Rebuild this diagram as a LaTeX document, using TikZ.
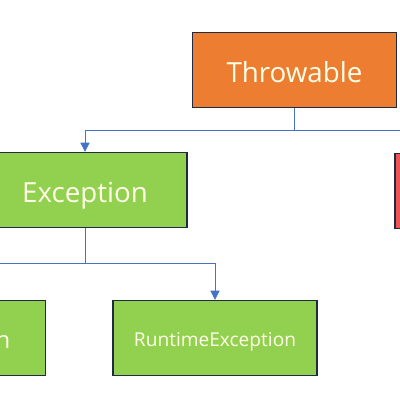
\documentclass[tikz,border=0pt]{standalone}
\usepackage{fontspec}
\setmainfont{Open Sans}
\usepackage{tikz}
\usetikzlibrary{arrows.meta,positioning}
\definecolor{throworange}{RGB}{237,125,49}
\definecolor{excgreen}{RGB}{146,208,80}
\definecolor{errred}{RGB}{240,85,85}
\definecolor{boxline}{RGB}{31,42,68}
\definecolor{linkblue}{RGB}{68,114,196}
\definecolor{labelcream}{RGB}{255,255,232}

\begin{document}
\begin{tikzpicture}[
  x=0.025cm, y=-0.025cm,
  classbox/.style={rectangle, draw=boxline, line width=1.1pt, minimum width=5.1cm, minimum height=1.87cm, align=center, text=labelcream, inner sep=0pt},
  bigfont/.style={font=\fontsize{19.7}{22}\selectfont, text height=19.7pt, text depth=2pt},
  midfont/.style={font=\fontsize{17}{20}\selectfont, text height=17pt, text depth=1.7pt},
  smallfont/.style={font=\fontsize{13.6}{16}\selectfont, text height=13.6pt, text depth=1.4pt},
  conn/.style={linkblue, line width=0.6pt},
  arrow/.style={conn, -{Triangle[width=6.5pt, length=6.5pt]}}
]
\useasboundingbox (0,0) rectangle (400,400);
\clip (0,0) rectangle (400,400);

\node[classbox, bigfont, fill=throworange] (throwable) at (294.5,70) {Throwable};
\node[classbox, bigfont, fill=errred] (error) at (497,191) {Error};
\node[classbox, bigfont, fill=excgreen] (exception) at (85,190) {Exception};
\node[classbox, smallfont, fill=excgreen] (runtime) at (215,338) {RuntimeException};
\node[classbox, midfont, fill=excgreen, left=1.65cm of runtime] (ioexc) {IOException};

\coordinate (throwbus) at (294.5,130);
\coordinate (excbus) at (85,263);

\draw[conn] (throwable.south) -- (throwbus);
\draw[arrow] (throwbus) -| (exception.north);
\draw[arrow] (throwbus) -| (error.north);
\draw[conn] (exception.south) -- (excbus);
\draw[arrow] (excbus) -| (runtime.north);
\draw[arrow] (excbus) -| (ioexc.north);
\end{tikzpicture}
\end{document}
